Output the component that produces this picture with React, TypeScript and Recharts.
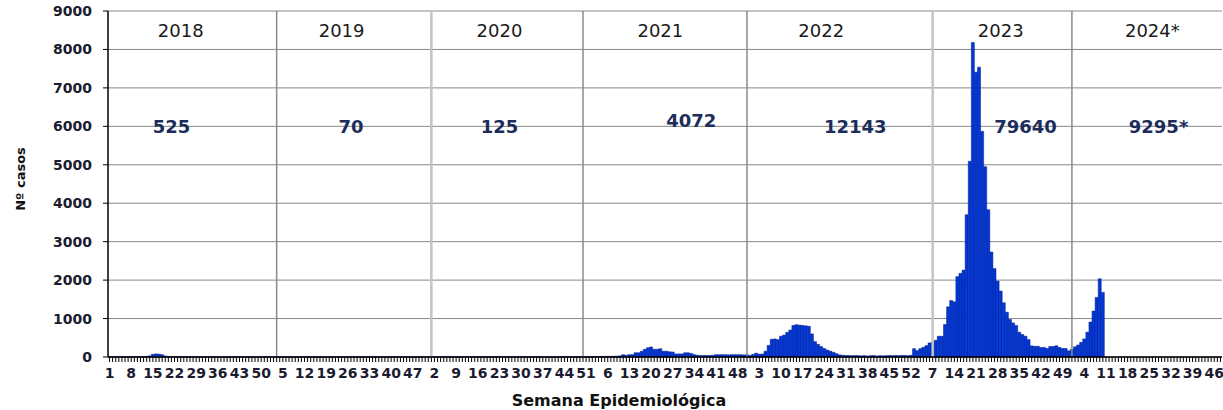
import React from "react";
import {
  BarChart,
  Bar,
  XAxis,
  YAxis,
  CartesianGrid,
  ReferenceLine,
  ReferenceDot,
  Label,
} from "recharts";

// weekly case counts, one array per year
const years = ["2018", "2019", "2020", "2021", "2022", "2023", "2024"];
const yearTitles = ["2018", "2019", "2020", "2021", "2022", "2023", "2024*"];
const yearTotals = ["525", "70", "125", "4072", "12143", "79640", "9295*"];

const cases2018 = [
  5, 4, 6, 3, 5, 4, 6, 5, 7, 6, 8, 10, 15, 30, 70, 80, 75, 60, 28, 8, 6, 5, 4, 3, 4, 3,
  5, 4, 3, 2, 3, 4, 2, 3, 2, 3, 2, 2, 3, 2, 1, 2, 3, 2, 1, 2, 2, 1, 2, 1, 2, 1,
];
const cases2019 = [
  2, 1, 2, 1, 3, 2, 1, 2, 1, 2, 1, 1, 2, 1, 2, 1, 1, 2, 1, 1, 2, 1, 1, 2, 1, 1,
  2, 1, 1, 1, 2, 1, 1, 1, 2, 1, 1, 1, 1, 2, 1, 1, 1, 2, 1, 1, 1, 1, 2, 1, 1, 2,
];
const cases2020 = [
  3, 2, 3, 2, 4, 3, 2, 2, 3, 2, 2, 3, 2, 2, 3, 2, 2, 3, 2, 2, 3, 2, 2, 3, 2, 2,
  2, 3, 2, 2, 3, 2, 2, 2, 3, 2, 2, 3, 2, 2, 3, 2, 3, 2, 3, 3, 2, 3, 4, 3, 3, 3,
];
const cases2021 = [
  15, 12, 10, 14, 12, 18, 15, 20, 22, 30, 60, 45, 60, 60, 110, 110, 150, 200, 240, 260,
  200, 200, 215, 150, 150, 135, 130, 80, 80, 80, 110, 110, 90, 60, 45, 40, 40, 40, 40, 45,
  60, 60, 60, 60, 55, 60, 60, 60, 60, 55, 60, 40,
];
const cases2022 = [
  70, 100, 75, 75, 150, 300, 460, 470, 450, 540, 570, 640, 700, 820, 840, 830, 820, 810, 800, 600,
  400, 330, 270, 220, 180, 150, 120, 85, 55, 45, 40, 40, 35, 40, 35, 30, 35, 25, 35, 40,
  25, 35, 30, 35, 40, 35, 40, 35, 40, 40, 35, 45,
];
const cases2023 = [
  217, 165, 217, 252, 296, 365, 383, 435, 540, 540, 845, 1305, 1470, 1435, 2090, 2175, 2260, 3700, 5090, 8180,
  7410, 7540, 5870, 4950, 3830, 2730, 2300, 1975, 1715, 1410, 1165, 975, 887, 818, 644, 583, 540, 452, 290, 278,
  280, 248, 248, 221, 274, 274, 292, 248, 221, 221, 160, 200,
];
const cases2024 = [265, 310, 380, 470, 646, 910, 1195, 1550, 2035, 1680];

const casesByYear = [cases2018, cases2019, cases2020, cases2021, cases2022, cases2023, cases2024];
const yTicks = [0, 1000, 2000, 3000, 4000, 5000, 6000, 7000, 8000, 9000];

const WEEKS_PER_YEAR = 52;
const WEEKS_SHOWN_LAST = 48; // last year is cut off at the right edge

type Row = { key: string; week: number; cases: number | null };
const rows: Row[] = [];
years.forEach((year, yi) => {
  const n = yi === years.length - 1 ? WEEKS_SHOWN_LAST : WEEKS_PER_YEAR;
  for (let w = 1; w <= n; w++) {
    const v = casesByYear[yi][w - 1];
    rows.push({ key: `${year}-${w}`, week: w, cases: v === undefined ? null : v });
  }
});
const weekOf = new Map(rows.map((r) => [r.key, r.week]));
const labelled = new Set(rows.filter((_, i) => i % 7 === 0).map((r) => r.key));

// where the annotations sit (week within each year)
const titleWeek = [24, 24, 23, 23, 23, 29, 26];
const totalWeek = [21, 27, 23, 33, 34, 37, 28];
const totalY = [6000, 6000, 6000, 6150, 6000, 6000, 6000];

const dividers = [
  { key: "2019-3", light: false },
  { key: "2020-1", light: true },
  { key: "2020-50", light: false },
  { key: "2021-51", light: false },
  { key: "2023-7", light: true },
  { key: "2023-52", light: false },
];

const FONT = "DejaVu Sans";
const TEXT = "#1b1b30";

function WeekTick(props: any) {
  const { x, y, payload } = props;
  if (!labelled.has(payload.value)) return <g />;
  return (
    <text x={x} y={y} dy={14} textAnchor="middle" fontSize={14} fontWeight={700} fill={TEXT} fontFamily={FONT}>
      {weekOf.get(payload.value)}
    </text>
  );
}

export default function App() {
  return (
    <div
      style={{
        position: "absolute",
        left: 0,
        top: 0,
        width: 1223,
        height: 410,
        overflow: "hidden",
        background: "#fff",
        fontFamily: FONT,
      }}
    >
      <BarChart
        width={1223}
        height={410}
        data={rows}
        margin={{ top: 11, right: 1, bottom: 0, left: 8 }}
        barCategoryGap={0}
        barGap={0}
      >
        <CartesianGrid vertical={false} stroke="#888" strokeWidth={1} />
        <XAxis
          dataKey="key"
          interval={0}
          height={53}
          tick={<WeekTick />}
          tickSize={5}
          tickLine={{ stroke: "#000" }}
          axisLine={{ stroke: "#000", strokeWidth: 1.5 }}
        >
          <Label
            value="Semana Epidemiológica"
            position="insideBottom"
            offset={4}
            dx={-46}
            fontSize={16}
            fontWeight={700}
            fill="#111"
            fontFamily={FONT}
          />
        </XAxis>
        <YAxis
          width={100}
          domain={[0, 9000]}
          ticks={yTicks}
          tickSize={5}
          tickMargin={11}
          tickLine={{ stroke: "#000" }}
          axisLine={{ stroke: "#000", strokeWidth: 1.5 }}
          tick={{ fontSize: 14, fontWeight: 700, fill: TEXT, fontFamily: FONT }}
        >
          <Label
            value="Nº casos"
            angle={-90}
            position="center"
            dx={-38}
            dy={-5}
            fontSize={13}
            fontWeight={700}
            fill="#111"
            fontFamily={FONT}
          />
        </YAxis>
        <Bar dataKey="cases" fill="#0038d8" stroke="#00188a" strokeWidth={0.5} isAnimationActive={false} />
        {dividers.map((d) => (
          <ReferenceLine
            key={d.key}
            x={d.key}
            stroke={d.light ? "#c4c4c4" : "#8a8a8a"}
            strokeWidth={d.light ? 2.5 : 1.5}
          />
        ))}
        {years.map((year, i) => (
          <ReferenceDot
            key={"t" + year}
            x={`${year}-${titleWeek[i]}`}
            y={8500}
            r={0}
            fill="none"
            stroke="none"
            label={{ value: yearTitles[i], position: "center", fontSize: 18, fill: "#1a1a1a", fontFamily: FONT }}
          />
        ))}
        {years.map((year, i) => (
          <ReferenceDot
            key={"s" + year}
            x={`${year}-${totalWeek[i]}`}
            y={totalY[i]}
            r={0}
            fill="none"
            stroke="none"
            label={{
              value: yearTotals[i],
              position: "center",
              fontSize: 18,
              fontWeight: 700,
              fill: "#1c2d5c",
              fontFamily: FONT,
            }}
          />
        ))}
      </BarChart>
    </div>
  );
}
